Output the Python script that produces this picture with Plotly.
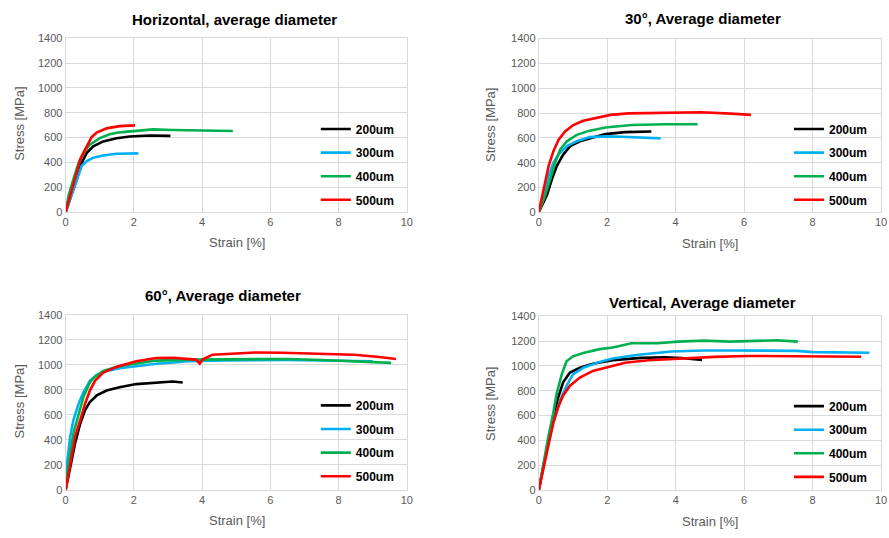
import plotly.graph_objects as go

# ---------------- data ----------------
series_names = ["200um", "300um", "400um", "500um"]
series_colors = ["#000000", "#00B0F0", "#00B050", "#FF0000"]

panel_titles = ["Horizontal, average diameter", "30°, Average diameter",
                "60°, Average diameter", "Vertical, Average diameter"]
x_title = "Strain [%]"
y_title = "Stress [MPa]"
x_ticks = [0, 2, 4, 6, 8, 10]
y_ticks = [0, 200, 400, 600, 800, 1000, 1200, 1400]

# Horizontal
h200_strain = [0, 0.18, 0.33, 0.47, 0.62, 0.81, 1.1, 1.49, 1.88, 2.46, 3.07]
h200_stress = [0, 136, 267, 398, 477, 530, 569, 595, 608, 616, 613]
h300_strain = [0, 0.18, 0.33, 0.47, 0.62, 0.81, 1.1, 1.49, 2.13]
h300_stress = [0, 136, 267, 372, 411, 438, 456, 469, 472]
h400_strain = [0, 0.09, 0.23, 0.38, 0.52, 0.71, 1.0, 1.29, 1.58, 1.86, 2.03, 2.56, 3.14, 4.1, 4.9]
h400_stress = [0, 136, 267, 398, 477, 543, 595, 627, 642, 648, 653, 666, 661, 658, 653]
h500_strain = [0, 0.135, 0.28, 0.43, 0.57, 0.71, 0.76, 0.91, 1.2, 1.58, 2.03]
h500_stress = [0, 136, 294, 425, 503, 582, 603, 640, 674, 692, 698]

# 30 degrees
a30_200_strain = [0, 0.24, 0.39, 0.53, 0.72, 0.92, 1.2, 1.59, 1.95, 2.52, 2.91, 3.29]
a30_200_stress = [0, 139, 270, 375, 467, 533, 572, 604, 630, 646, 651, 651]
a30_300_strain = [0, 0.145, 0.29, 0.43, 0.58, 0.82, 1.11, 1.49, 1.95, 2.43, 2.91, 3.56]
a30_300_stress = [0, 139, 296, 401, 467, 533, 572, 606, 612, 609, 606, 596]
a30_400_strain = [0, 0.19, 0.34, 0.48, 0.63, 0.82, 1.11, 1.49, 1.95, 2.72, 3.68, 4.64]
a30_400_stress = [0, 139, 270, 401, 506, 572, 624, 658, 683, 703, 709, 709]
a30_500_strain = [0, 0.145, 0.29, 0.43, 0.58, 0.77, 1.01, 1.3, 1.69, 2.1, 2.62, 3.68, 4.74, 5.61, 6.2]
a30_500_stress = [0, 191, 375, 493, 585, 651, 703, 737, 763, 785, 797, 803, 806, 795, 785]

# 60 degrees
a60_200_strain = [0, 0.135, 0.28, 0.43, 0.57, 0.71, 0.91, 1.2, 1.58, 2.07, 2.66, 3.14, 3.43]
a60_200_stress = [0, 196, 378, 534, 639, 704, 756, 795, 821, 847, 860, 868, 860]
a60_300_strain = [0, 0.04, 0.135, 0.23, 0.38, 0.52, 0.71, 0.91, 1.2, 1.58, 2.07, 2.66, 3.62, 4.59, 6.52, 8.45, 9.0]
a60_300_stress = [120, 222, 430, 561, 691, 782, 873, 920, 952, 973, 988, 1010, 1030, 1037, 1040, 1035, 1030]
a60_400_strain = [0, 0.09, 0.23, 0.38, 0.52, 0.71, 0.81, 1.1, 1.5, 2.07, 2.66, 3.62, 4.59, 5.56, 6.52, 7.49, 8.45, 9.54]
a60_400_stress = [0, 222, 456, 613, 743, 860, 894, 952, 986, 1012, 1035, 1043, 1043, 1043, 1048, 1040, 1030, 1017]
a60_500_strain = [0, 0.135, 0.28, 0.43, 0.57, 0.71, 0.86, 1.1, 1.5, 2.07, 2.66, 3.14, 3.62, 3.82, 3.93,
                  4.01, 4.3, 5.07, 5.56, 6.33, 7.49, 8.45, 9.2, 9.68]
a60_500_stress = [0, 222, 430, 561, 691, 795, 873, 939, 986, 1030, 1056, 1058, 1051, 1043, 1011,
                  1043, 1082, 1095, 1100, 1098, 1092, 1082, 1064, 1048]

# Vertical
v200_strain = [0, 0.23, 0.42, 0.57, 0.71, 0.91, 1.2, 1.58, 2.16, 3.0, 3.68, 4.16, 4.77]
v200_stress = [0, 328, 565, 749, 867, 946, 985, 1017, 1046, 1064, 1069, 1064, 1048]
v300_strain = [0, 0.23, 0.42, 0.62, 0.81, 1.0, 1.3, 1.78, 2.16, 2.91, 3.87, 4.84, 5.8, 6.77, 7.54, 8.02, 8.99, 9.66]
v300_stress = [0, 320, 538, 722, 840, 932, 985, 1032, 1059, 1090, 1116, 1124, 1124, 1124, 1121, 1111, 1106, 1106]
v400_strain = [0, 0.135, 0.28, 0.42, 0.52, 0.67, 0.81, 1.0, 1.3, 1.78, 2.16, 2.71, 3.48, 4.06, 4.83, 5.6, 6.57, 6.96, 7.57]
v400_stress = [0, 223, 433, 617, 775, 932, 1037, 1077, 1103, 1135, 1148, 1182, 1182, 1195, 1203, 1195, 1200, 1206, 1195]
v500_strain = [0, 0.135, 0.28, 0.42, 0.57, 0.71, 0.91, 1.2, 1.58, 2.16, 2.52, 3.2, 4.16, 5.13, 6.09, 7.54, 8.5, 9.42]
v500_stress = [0, 171, 381, 538, 670, 762, 840, 906, 959, 998, 1025, 1045, 1059, 1072, 1080, 1080, 1077, 1074]

panels = [
    [(h200_strain, h200_stress), (h300_strain, h300_stress), (h400_strain, h400_stress), (h500_strain, h500_stress)],
    [(a30_200_strain, a30_200_stress), (a30_300_strain, a30_300_stress), (a30_400_strain, a30_400_stress), (a30_500_strain, a30_500_stress)],
    [(a60_200_strain, a60_200_stress), (a60_300_strain, a60_300_stress), (a60_400_strain, a60_400_stress), (a60_500_strain, a60_500_stress)],
    [(v200_strain, v200_stress), (v300_strain, v300_stress), (v400_strain, v400_stress), (v500_strain, v500_stress)],
]

# ---------------- layout geometry (pixels) ----------------
W, H = 889, 538
# plot areas: (left, right, top, bottom) in pixels
areas = [(63.3, 408.0, 33.0, 210.7),
         (541.2, 887.0, 33.3, 211.0),
         (63.3, 408.0, 316.0, 495.0),
         (541.3, 887.0, 317.3, 495.0)]
title_pos = [(234, 14), (707, 13), (222, 296.5), (707, 303)]
xtitle_pos = [(236, 242), (714, 243), (236, 526.5), (714, 527.3)]
ytitle_pos = [(16.7, 121), (492.7, 122), (16.7, 405), (493, 407)]
# top-left corner of each legend box (pixels)
legend_pos = [(316, 111), (794, 111), (316, 393.7), (794, 394.4)]

FONT = "Liberation Sans, Arial, sans-serif"
GRID = "#d9d9d9"
TICKC = "#595959"

fig = go.Figure()
layout = dict(
    width=W, height=H,
    margin=dict(l=0, r=0, t=0, b=0),
    paper_bgcolor="white", plot_bgcolor="white",
    font=dict(family=FONT, color=TICKC),
    annotations=[],
)

for p, (left, right, top, bottom) in enumerate(areas):
    k = "" if p == 0 else str(p + 1)
    leg = "legend" + k
    for s, (xs, ys) in enumerate(panels[p]):
        fig.add_trace(go.Scatter(
            x=xs, y=ys, mode="lines", name=series_names[s],
            line=dict(color=series_colors[s], width=2.6),
            xaxis="x" + k, yaxis="y" + k, legend=leg,
            legendgroup=f"p{p}s{s}", hoverinfo="skip",
        ))
    layout["xaxis" + k] = dict(
        domain=[left / W, right / W], anchor="y" + k, range=[0, 10],
        tickvals=x_ticks, showgrid=True, gridcolor=GRID, gridwidth=1,
        zeroline=False, showline=True, linecolor=GRID, mirror=True,
        ticks="", tickfont=dict(size=11, color=TICKC, family=FONT),
        fixedrange=True,
    )
    layout["yaxis" + k] = dict(
        domain=[1 - bottom / H, 1 - top / H], anchor="x" + k, range=[0, 1400],
        tickvals=y_ticks, showgrid=True, gridcolor=GRID, gridwidth=1,
        zeroline=False, showline=True, linecolor=GRID, mirror=True,
        ticks="", tickfont=dict(size=11, color=TICKC, family=FONT),
        fixedrange=True,
    )
    lx, ly = legend_pos[p]
    layout[leg] = dict(
        x=lx / W, y=1 - ly / H, xanchor="left", yanchor="top",
        bgcolor="rgba(0,0,0,0)", borderwidth=0,
        font=dict(size=12, color="#000000", family=FONT, weight="bold"),
        tracegroupgap=4.6, traceorder="grouped",
    )
    tx, ty = title_pos[p]
    layout["annotations"].append(dict(
        text="<b>" + panel_titles[p] + "</b>", x=tx / W, y=1 - ty / H,
        xref="paper", yref="paper", showarrow=False, xanchor="center", yanchor="middle",
        font=dict(size=15, color="#000000", family=FONT)))
    ax_, ay_ = xtitle_pos[p]
    layout["annotations"].append(dict(
        text=x_title, x=ax_ / W, y=1 - ay_ / H, xref="paper", yref="paper",
        showarrow=False, xanchor="center", yanchor="middle",
        font=dict(size=13, color=TICKC, family=FONT)))
    bx, by = ytitle_pos[p]
    layout["annotations"].append(dict(
        text=y_title, x=bx / W, y=1 - by / H, xref="paper", yref="paper",
        showarrow=False, xanchor="center", yanchor="middle", textangle=-90,
        font=dict(size=13, color=TICKC, family=FONT)))

fig.update_layout(**layout)
fig.write_html("out.html",
               config={"displayModeBar": False},
               post_script="document.body.style.margin='0';document.body.style.overflow='hidden';")
